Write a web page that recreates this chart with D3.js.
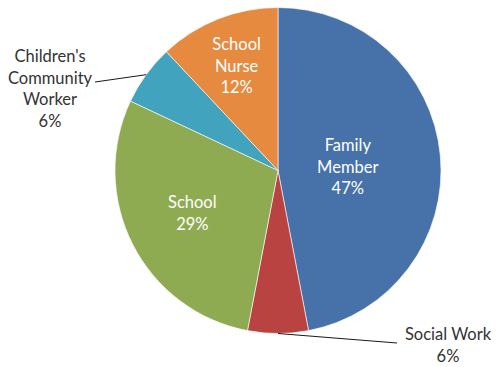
<!DOCTYPE html>
<html>
<head>
<meta charset="utf-8">
<script src="https://cdn.jsdelivr.net/npm/d3@7"></script>
<style>
  html, body { margin: 0; padding: 0; background: #fff; }
  svg { display: block; }
</style>
</head>
<body>
<svg id="chart" width="496" height="367"></svg>
<script>
// Who referred the young people: share of referrals by source
const categories = ["Family Member", "Social Work", "School", "Children's Community Worker", "School Nurse"];
const percents = [47, 6, 29, 6, 12];
const labelLines = [
  ["Family", "Member"],
  ["Social Work"],
  ["School"],
  ["Children's", "Community", "Worker"],
  ["School", "Nurse"]
];

// Slice colours
const colors = ["#4672a9", "#b94340", "#8eab51", "#42a3be", "#e68a3f"];

// Label placement: inside labels sit on a ring (fraction of radius);
// outside labels are anchored at an offset from the centre with a leader line
const labelLayout = [
  { inside: true, r: 0.43, dy: 3 },
  { inside: false, x: 170, y: 174.5, lineTo: [119, 172.5] },
  { inside: true, r: 0.59, dy: -1 },
  { inside: false, x: -228, y: -82, lineTo: [-183, -88.5] },
  { inside: true, r: 0.69, dy: 0 }
];

const W = 496, H = 367;
const cx = 278, cy = 170.5, R = 163;

const svg = d3.select("#chart");
const g = svg.append("g").attr("transform", `translate(${cx},${cy})`);

const pie = d3.pie().sort(null).value(d => d).startAngle(0).endAngle(2 * Math.PI);
const arcs = pie(percents);
const arc = d3.arc().innerRadius(0).outerRadius(R);

g.selectAll("path.slice")
  .data(arcs)
  .join("path")
  .attr("class", "slice")
  .attr("d", arc)
  .attr("fill", (d, i) => colors[i])
  .attr("stroke", "#ffffff")
  .attr("stroke-width", 0.6);

const fontFamily = "Lato, 'Open Sans', sans-serif";
const fontSize = 16.5;
const lineH = 21.5;

arcs.forEach((d, i) => {
  const lay = labelLayout[i];
  const lines = labelLines[i].concat([percents[i] + "%"]);
  const mid = (d.startAngle + d.endAngle) / 2;
  let x, y, fill;
  if (lay.inside) {
    const r = R * lay.r;
    x = Math.sin(mid) * r;
    y = -Math.cos(mid) * r + lay.dy;
    fill = "#ffffff";
  } else {
    x = lay.x;
    y = lay.y;
    fill = "#333333";
    // leader line from the slice edge to the label
    const ex = Math.sin(mid) * R, ey = -Math.cos(mid) * R;
    g.append("line")
      .attr("x1", ex).attr("y1", ey)
      .attr("x2", lay.lineTo[0]).attr("y2", lay.lineTo[1])
      .attr("stroke", "#1a1a1a")
      .attr("stroke-width", 1);
  }
  const top = y - (lines.length - 1) * lineH / 2;
  const t = g.append("text")
    .attr("text-anchor", "middle")
    .attr("font-family", fontFamily)
    .attr("font-size", fontSize)
    .attr("fill", fill);
  lines.forEach((ln, k) => {
    t.append("tspan")
      .attr("x", x)
      .attr("y", top + k * lineH)
      .attr("dy", "0.35em")
      .text(ln);
  });
});
</script>
</body>
</html>
